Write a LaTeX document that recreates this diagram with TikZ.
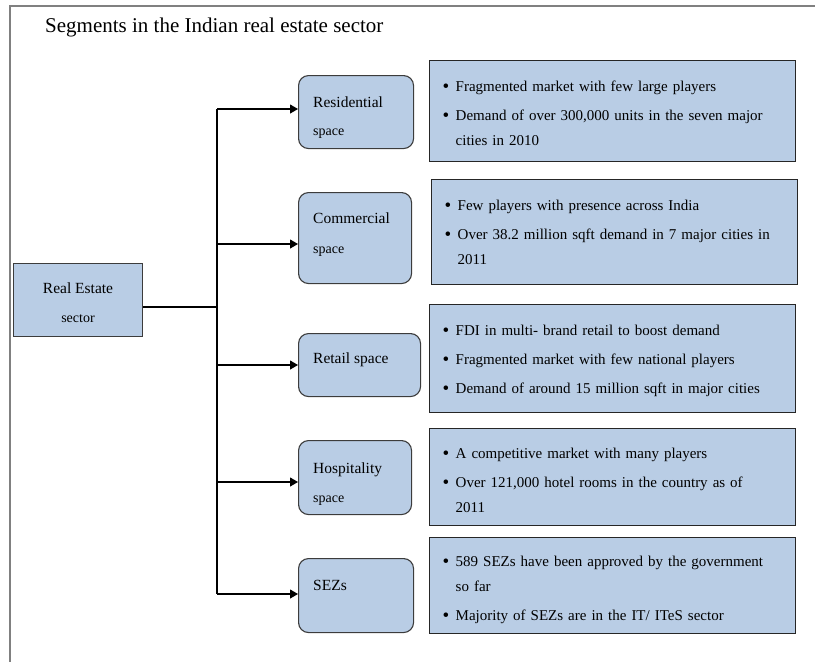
\documentclass[tikz,border=0pt]{standalone}
\usepackage{fontspec}
\setmainfont{Liberation Serif}
\usetikzlibrary{arrows.meta,calc}
\definecolor{boxblue}{HTML}{B9CDE5}
\definecolor{framegray}{HTML}{808080}
\definecolor{edgegray}{HTML}{3C3C3C}
% bullet mark, first line of an item, wrapped continuation line, gap between items
\newcommand{\bmark}{\makebox[13pt][l]{\fontsize{19}{19}\selectfont\raisebox{-1.2pt}{\textbullet}}}
\newcommand{\bitem}[1]{\par\noindent\bmark#1\par}
\newcommand{\bcont}[1]{\par\noindent\hspace*{13pt}#1\par}
\newcommand{\bgap}{\par\vspace{4pt}}
% fixed room under the list so it sits a little high in its box
\newcommand{\bend}[1]{\par\kern#1\hrule height0pt width0pt\relax}
\begin{document}
\begin{tikzpicture}[x=1pt,y=-1pt,
  segbox/.style={draw=edgegray, line width=1.1pt, fill=boxblue, rounded corners=10pt,
    anchor=north west, inner sep=0pt},
  rootbox/.style={draw=edgegray, line width=1.3pt, fill=boxblue, anchor=north west, inner sep=0pt},
  infobox/.style={draw=black!85, line width=1.4pt, fill=boxblue, anchor=north west,
    text width=340pt, inner xsep=13pt, inner ysep=3pt, align=left,
    font=\fontsize{15}{25}\selectfont},
  seglabel/.style={anchor=base west, inner sep=0pt, font=\fontsize{15.5}{18}\selectfont},
  segsmall/.style={anchor=base west, inner sep=0pt, font=\fontsize{14}{17}\selectfont},
  conn/.style={line width=1.1pt, black},
  arr/.style={conn, -{Triangle[length=8pt,width=9pt]}}
]
\useasboundingbox (0,0) rectangle (815,662);

% page frame
\draw[framegray, line width=2pt] (10,662) -- (10,6) -- (815,6);

% title
\node[anchor=base west, inner sep=0pt, font=\fontsize{21}{25}\selectfont] (title) at (45,32)
  {Segments in the Indian real estate sector};

% root box
\node[rootbox, minimum width=129pt, minimum height=73pt] (re) at (13,263) {};
\node[anchor=base, inner sep=0pt, font=\fontsize{15.5}{18}\selectfont] (reA) at (78,293) {Real Estate};
\node[anchor=base, inner sep=0pt, font=\fontsize{14}{17}\selectfont] (reB) at (78,322) {sector};

% segment boxes
\node[segbox, minimum width=115pt, minimum height=73pt] (res) at (298,75) {};
\node[segbox, minimum width=113pt, minimum height=91pt] (com) at (298,192) {};
\node[segbox, minimum width=122pt, minimum height=63pt] (ret) at (298,333) {};
\node[segbox, minimum width=113pt, minimum height=74pt] (hos) at (298,440) {};
\node[segbox, minimum width=115pt, minimum height=74pt] (sez) at (298,558) {};

\node[seglabel] (resA) at (313,107) {Residential};
\node[segsmall] (resB) at (313,135) {space};
\node[seglabel] (comA) at (313,223) {Commercial};
\node[segsmall] (comB) at (313,253) {space};
\node[seglabel] (retA) at (313,363) {Retail space};
\node[seglabel] (hosA) at (313,473) {Hospitality};
\node[segsmall] (hosB) at (313,502) {space};
\node[seglabel] (sezA) at (313,590) {SEZs};

% detail boxes
\node[infobox, minimum width=365pt, minimum height=101pt] (i1) at (429,60) {%
  \bitem{Fragmented market with few large players}\bgap
  \bitem{Demand of over 300,000 units in the seven major}%
  \bcont{cities in 2010}\bend{10pt}};
\node[infobox, minimum width=365pt, minimum height=105pt] (i2) at (431,179) {%
  \bitem{Few players with presence across India}\bgap
  \bitem{Over 38.2 million sqft demand in 7 major cities in}%
  \bcont{2011}\bend{14pt}};
\node[infobox, minimum width=366pt, minimum height=108pt] (i3) at (429,304) {%
  \bitem{FDI in multi- brand retail to boost demand}\bgap
  \bitem{Fragmented market with few national players}\bgap
  \bitem{Demand of around 15 million sqft in major cities}\bend{10pt}};
\node[infobox, minimum width=366pt, minimum height=97pt] (i4) at (429,428) {%
  \bitem{A competitive market with many players}\bgap
  \bitem{Over 121,000 hotel rooms in the country as of}%
  \bcont{2011}\bend{8pt}};
\node[infobox, minimum width=366pt, minimum height=96pt] (i5) at (429,537) {%
  \bitem{589 SEZs have been approved by the government}%
  \bcont{so far}\bgap
  \bitem{Majority of SEZs are in the IT/ ITeS sector}\bend{6pt}};

% tree connectors
\coordinate (j0) at (217,307);
\coordinate (j1) at (217,109);
\coordinate (j2) at (217,244);
\coordinate (j3) at (217,365);
\coordinate (j4) at (217,482);
\coordinate (j5) at (217,594);

\draw[conn] (re.east |- j0) -- (j0);
\draw[conn] (j1) -- (j5);
\draw[arr] (j1) -- (j1 -| res.west);
\draw[arr] (j2) -- (j2 -| com.west);
\draw[arr] (j3) -- (j3 -| ret.west);
\draw[arr] (j4) -- (j4 -| hos.west);
\draw[arr] (j5) -- (j5 -| sez.west);
\end{tikzpicture}
\end{document}
